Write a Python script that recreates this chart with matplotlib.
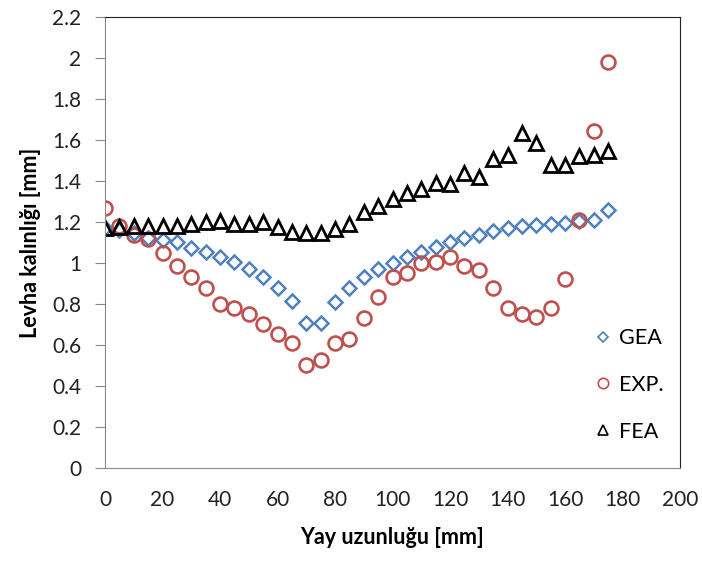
import numpy as np
import matplotlib.pyplot as plt

plt.rcParams['font.family'] = ['Lato', 'DejaVu Sans']

# arc length positions [mm]
arc = np.arange(0, 180, 5)

gea = [1.17, 1.16, 1.145, 1.12, 1.11, 1.10, 1.075, 1.055, 1.03, 1.005, 0.97, 0.93,
       0.88, 0.815, 0.705, 0.705, 0.81, 0.88, 0.93, 0.97, 1.0, 1.03, 1.055, 1.08,
       1.10, 1.12, 1.135, 1.155, 1.17, 1.18, 1.185, 1.19, 1.195, 1.205, 1.21, 1.26]
exp = [1.27, 1.18, 1.135, 1.115, 1.05, 0.985, 0.93, 0.88, 0.80, 0.78, 0.75, 0.70,
       0.655, 0.61, 0.50, 0.525, 0.61, 0.63, 0.73, 0.835, 0.93, 0.95, 1.0, 1.005,
       1.03, 0.985, 0.965, 0.88, 0.78, 0.75, 0.735, 0.78, 0.92, 1.21, 1.645, 1.98]
fea = [1.17, 1.175, 1.18, 1.18, 1.18, 1.18, 1.19, 1.20, 1.205, 1.19, 1.19, 1.20,
       1.175, 1.15, 1.145, 1.148, 1.165, 1.19, 1.25, 1.28, 1.31, 1.34, 1.36, 1.39,
       1.385, 1.44, 1.42, 1.505, 1.525, 1.635, 1.585, 1.48, 1.48, 1.52, 1.525, 1.545]

xticks = np.arange(0, 201, 20)
yticks = np.arange(0, 2.21, 0.2)
ytick_labels = ['0', '0.2', '0.4', '0.6', '0.8', '1', '1.2', '1.4', '1.6', '1.8', '2', '2.2']

blue = '#4F81BD'
red = '#C0504D'
gray = '#888888'

fig = plt.figure(figsize=(7.02, 5.62), dpi=100)
ax = fig.add_axes([0.1496, 0.1673, 0.8191, 0.8025])

ax.plot(arc, gea, ls='none', marker='D', ms=7, mfc='none', mec=blue, mew=1.8, label='GEA')
ax.plot(arc, exp, ls='none', marker='o', ms=10, mfc='none', mec=red, mew=1.9, label='EXP.')
ax.plot(arc, fea, ls='none', marker='^', ms=10, mfc='none', mec='black', mew=2.0, label='FEA')

ax.set_xlim(0, 200)
ax.set_ylim(0, 2.2)
ax.set_xticks(xticks)
ax.set_yticks(yticks)
ax.set_yticklabels(ytick_labels)
ax.tick_params(axis='x', length=0, pad=16, labelsize=15, colors='#222222')
ax.tick_params(axis='y', length=7, pad=10, labelsize=15, colors=gray, labelcolor='#222222')

for side in ['left', 'bottom']:
    ax.spines[side].set_color(gray)
for side in ['top', 'right']:
    ax.spines[side].set_color('#222222')

ax.set_xlabel('Yay uzunluğu [mm]', fontsize=15.5, fontweight='bold', labelpad=12)
ax.set_ylabel('Levha kalınlığı [mm]', fontsize=15.5, fontweight='bold', labelpad=8)

leg = ax.legend(loc='center left', bbox_to_anchor=(0.835, 0.184), frameon=False,
                fontsize=15.5, markerscale=0.75, handlelength=0.7, handletextpad=0.35,
                labelspacing=1.25, borderpad=0)
for h in leg.legend_handles:
    h.set_markeredgewidth(1.2)

fig.savefig('out.png', dpi=100)
